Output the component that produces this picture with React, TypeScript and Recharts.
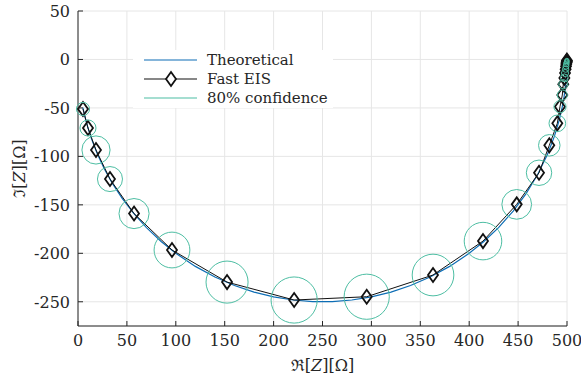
import React from 'react';
import {
  ComposedChart,
  Line,
  Scatter,
  XAxis,
  YAxis,
  CartesianGrid,
} from 'recharts';

// ---------- data ----------
const xTicks = [0, 50, 100, 150, 200, 250, 300, 350, 400, 450, 500];
const yTicks = [-250, -200, -150, -100, -50, 0, 50];

// Theoretical curve
const theoryX = [5, 7, 10, 14, 20, 27, 35, 45, 57, 70, 85, 100, 120, 140, 160, 180, 200, 220, 240, 260, 280, 300, 320, 340, 360, 380, 400, 415, 430, 445, 458, 470, 480, 487, 492, 495, 497, 498.5, 499.3, 499.8, 500];
const theoryY = [-49.7, -58.7, -70, -82.5, -98, -113, -127.6, -143.1, -158.9, -173.5, -187.8, -200, -213.5, -224.5, -233.2, -240, -244.9, -248.2, -249.8, -249.8, -248.2, -244.9, -240, -233.2, -224.5, -213.5, -200, -187.8, -173.5, -156.4, -138.7, -118.7, -98, -79.6, -62.7, -49.7, -38.6, -27.3, -18.7, -10, 0];

// Fast EIS estimates
const fastX = [5.1, 10.2, 18.4, 32.7, 57.3, 96.1, 152.4, 221, 295.2, 363, 414.1, 448.6, 471.4, 481.9, 490.1, 492.8, 495.2, 496.2, 497.3, 498.0, 498.6, 499.0, 499.3, 499.6, 499.8, 499.9];
const fastY = [-51.1, -70.7, -93.4, -123.4, -159, -196.6, -229.7, -248.2, -244.8, -222.4, -187.4, -149.5, -116.9, -88.6, -65.9, -48.8, -36.7, -25.6, -19, -14, -10, -7, -4.8, -3.2, -2, -1];
// 80% confidence radius (Ohm)
const confR = [6.7, 8.2, 14.4, 12.8, 15.4, 18.3, 21.5, 23.6, 23.1, 21.3, 19.2, 15.2, 13, 11, 8.5, 6.2, 5.1, 4.6, 4, 3.6, 3.2, 3, 2.8, 2.6, 2.4, 2.2];

const legendLabels = ['Theoretical', 'Fast EIS', '80% confidence'];

// ---------- styling / layout ----------
const W = 581;
const H = 382;
const MARGIN = { top: 11, right: 14, bottom: 0, left: 0 };
const Y_AXIS_W = 78;
const X_AXIS_H = 56;
const X_DOMAIN: [number, number] = [0, 500];
const Y_DOMAIN: [number, number] = [-275, 50];
const PLOT_W = W - MARGIN.left - MARGIN.right - Y_AXIS_W;
const PX_PER_OHM = PLOT_W / (X_DOMAIN[1] - X_DOMAIN[0]);

const FONT = "'DejaVu Serif', serif";
const FS = 16;
const LEGEND_FS = 15;
const TEXT_COLOR = '#262626';
const AXIS_COLOR = '#262626';
const GRID_COLOR = '#e6e6e6';
const BLUE = '#0C6DB5';
const BLACK = '#111111';
const TEAL = '#4DBEA3';
const TICK_LEN = 5;
const TICK_MARGIN = 8;

const theory = theoryX.map((x, i) => ({ x, y: theoryY[i] }));
const fastEis = fastX.map((x, i) => ({ x, y: fastY[i], r: confR[i] }));

// ---------- custom renderers ----------
const diamondPath = (cx: number, cy: number) =>
  `M${cx},${cy - 7} L${cx + 5},${cy} L${cx},${cy + 7} L${cx - 5},${cy} Z`;

const DiamondDot = (props: any) => {
  const { cx, cy, index } = props;
  if (cx == null || cy == null) return <g key={`d-${index}`} />;
  return (
    <path
      key={`d-${index}`}
      d={diamondPath(cx, cy)}
      fill="none"
      stroke={BLACK}
      strokeWidth={1.8}
      strokeLinejoin="miter"
    />
  );
};

const ConfCircle = (props: any) => {
  const { cx, cy, payload } = props;
  if (cx == null || cy == null) return <g />;
  return (
    <circle
      cx={cx}
      cy={cy}
      r={payload.r * PX_PER_OHM}
      fill="none"
      stroke={TEAL}
      strokeWidth={1}
    />
  );
};

const textStyle = { fontFamily: FONT, fontSize: FS, fill: TEXT_COLOR } as const;
const legendTextStyle = { fontFamily: FONT, fontSize: LEGEND_FS, fill: TEXT_COLOR } as const;

const BottomTick = (props: any) => {
  const { x, y, payload } = props;
  const axisY = y - TICK_MARGIN;
  return (
    <g>
      <line x1={x} x2={x} y1={axisY} y2={axisY - TICK_LEN} stroke={AXIS_COLOR} strokeWidth={1} />
      <text x={x} y={y} dy="0.74em" textAnchor="middle" style={textStyle}>
        {payload.value}
      </text>
    </g>
  );
};

const LeftTick = (props: any) => {
  const { x, y, payload } = props;
  const axisX = x + TICK_MARGIN;
  return (
    <g>
      <line x1={axisX} x2={axisX + TICK_LEN} y1={y} y2={y} stroke={AXIS_COLOR} strokeWidth={1} />
      <text x={x} y={y} dy="0.36em" textAnchor="end" style={textStyle}>
        {payload.value}
      </text>
    </g>
  );
};

const TopTick = (props: any) => {
  const { x, y } = props;
  return <line x1={x} x2={x} y1={y} y2={y + TICK_LEN} stroke={AXIS_COLOR} strokeWidth={1} />;
};

const RightTick = (props: any) => {
  const { x, y } = props;
  return <line x1={x} x2={x - TICK_LEN} y1={y} y2={y} stroke={AXIS_COLOR} strokeWidth={1} />;
};

const XLabel = (props: any) => {
  const { viewBox } = props;
  const cx = viewBox.x + viewBox.width / 2;
  return (
    <text x={cx} y={viewBox.y + 45} textAnchor="middle" style={textStyle}>
      {'ℜ['}
      <tspan fontStyle="italic">Z</tspan>
      {'][Ω]'}
    </text>
  );
};

const YLabel = (props: any) => {
  const { viewBox } = props;
  const cy = viewBox.y + viewBox.height / 2;
  const x = 25;
  return (
    <text
      x={x}
      y={cy}
      textAnchor="middle"
      style={textStyle}
      transform={`rotate(-90, ${x}, ${cy})`}
    >
      {'ℑ['}
      <tspan fontStyle="italic">Z</tspan>
      {'][Ω]'}
    </text>
  );
};

const LegendBox = () => {
  const rows = [
    { label: legendLabels[0], color: BLUE, marker: false },
    { label: legendLabels[1], color: BLACK, marker: true },
    { label: legendLabels[2], color: TEAL, marker: false },
  ];
  return (
    <div
      style={{
        position: 'absolute',
        left: 133,
        top: 50,
        width: 200,
        height: 58,
        background: '#fff',
      }}
    >
      <svg width={200} height={58} style={{ overflow: 'visible' }}>
        {rows.map((r, i) => {
          const y = 10 + i * 19;
          return (
            <g key={r.label}>
              <line x1={11} x2={64} y1={y} y2={y} stroke={r.color} strokeWidth={1.2} />
              {r.marker && (
                <path d={diamondPath(38, y)} fill="#fff" stroke={BLACK} strokeWidth={1.8} />
              )}
              <text x={74} y={y} dy="0.36em" style={legendTextStyle}>
                {r.label}
              </text>
            </g>
          );
        })}
      </svg>
    </div>
  );
};

export default function App() {
  return (
    <div style={{ position: 'absolute', left: 0, top: 0, width: W, height: H, background: '#fff' }}>
      <ComposedChart width={W} height={H} margin={MARGIN}>
        <CartesianGrid stroke={GRID_COLOR} strokeWidth={1} />
        <XAxis
          type="number"
          dataKey="x"
          domain={X_DOMAIN}
          ticks={xTicks}
          height={X_AXIS_H}
          tickSize={0}
          tickMargin={TICK_MARGIN}
          tick={<BottomTick />}
          axisLine={{ stroke: AXIS_COLOR, strokeWidth: 1 }}
          tickLine={false}
          interval={0}
          label={<XLabel />}
        />
        <XAxis
          xAxisId="top"
          orientation="top"
          type="number"
          dataKey="x"
          domain={X_DOMAIN}
          ticks={xTicks}
          height={0}
          tickSize={0}
          tickMargin={0}
          tick={<TopTick />}
          axisLine={{ stroke: AXIS_COLOR, strokeWidth: 1 }}
          tickLine={false}
          interval={0}
        />
        <YAxis
          type="number"
          dataKey="y"
          domain={Y_DOMAIN}
          ticks={yTicks}
          width={Y_AXIS_W}
          tickSize={0}
          tickMargin={TICK_MARGIN}
          tick={<LeftTick />}
          axisLine={{ stroke: AXIS_COLOR, strokeWidth: 1 }}
          tickLine={false}
          interval={0}
          label={<YLabel />}
        />
        <YAxis
          yAxisId="right"
          orientation="right"
          type="number"
          dataKey="y"
          domain={Y_DOMAIN}
          ticks={yTicks}
          width={0}
          tickSize={0}
          tickMargin={0}
          tick={<RightTick />}
          axisLine={{ stroke: AXIS_COLOR, strokeWidth: 1 }}
          tickLine={false}
          interval={0}
        />
        <Line
          data={theory}
          dataKey="y"
          type="linear"
          stroke={BLUE}
          strokeWidth={1.2}
          dot={false}
          isAnimationActive={false}
        />
        <Line
          data={fastEis}
          dataKey="y"
          type="linear"
          stroke={BLACK}
          strokeWidth={1}
          dot={DiamondDot}
          isAnimationActive={false}
        />
        <Scatter
          data={fastEis}
          dataKey="y"
          shape={ConfCircle}
          isAnimationActive={false}
        />
      </ComposedChart>
      <LegendBox />
    </div>
  );
}
